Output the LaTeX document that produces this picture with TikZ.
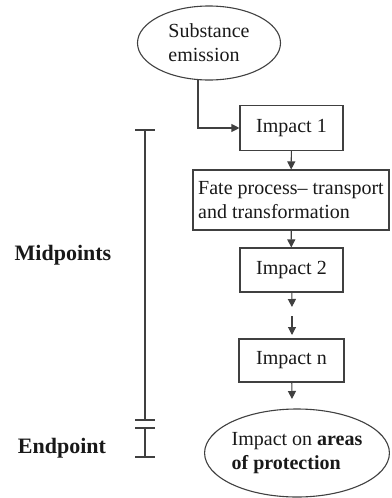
\documentclass[tikz,border=0pt]{standalone}
\usepackage{fontspec}
\setmainfont{Liberation Serif}
\usetikzlibrary{shapes.geometric,arrows.meta}
\tikzset{every path/.style={black!75,line width=1.1pt},
  every node/.style={text=black!90,font=\fontsize{20}{24}\selectfont},
  box/.style={draw,rectangle,inner sep=3pt},
  blob/.style={draw,ellipse,inner sep=0pt,align=left},
  flow/.style={-{Triangle[length=8pt,width=8pt]}}}

\begin{document}
\begin{tikzpicture}[x=1pt,y=-1pt]
  \useasboundingbox (0,0) rectangle (391,498);
  % flow chart
  \node[blob,minimum width=143pt,minimum height=74pt] (emis) at (209,43) {Substance\\emission};
  \node[box,minimum width=103pt,minimum height=45pt] (imp1) at (291.5,128) {Impact 1};
  \node[box,minimum width=196pt,minimum height=60pt,align=left] (fate) at (291,200) {Fate process-- transport\\and transformation};
  \node[box,minimum width=103pt,minimum height=44pt] (imp2) at (291.5,270) {Impact 2};
  \node[box,minimum width=105pt,minimum height=43pt] (impn) at (291.5,360.5) {Impact n};
  \node[blob,minimum width=183pt,minimum height=88pt] (aop) at (297,453) {Impact on \textbf{areas}\\\textbf{of protection}};
  \coordinate (gapa) at (292,307);
  \coordinate (gapb) at (292,316);
  \coordinate (gapc) at (292,335);
  \coordinate (gapd) at (292,399);
  \draw[flow] (198,79) |- (imp1.west);
  \draw[flow] (imp1) -- (fate);
  \draw[flow] (fate) -- (imp2);
  \draw[flow] (imp2) -- (gapa);
  \draw[flow] (gapb) -- (gapc);
  \draw[flow] (impn) -- (gapd);
  % scale on the left
  \draw (145,130) -- (145,420);
  \draw (135,130) -- (155,130);
  \draw (135,420) -- (155,420);
  \draw (145,428) -- (145,457);
  \draw (135,428) -- (155,428);
  \draw (135,457) -- (155,457);
  \node[font=\fontsize{22}{26}\selectfont\bfseries] (mid) at (63,255) {Midpoints};
  \node[font=\fontsize{22}{26}\selectfont\bfseries] (end) at (62,448) {Endpoint};
\end{tikzpicture}
\end{document}
